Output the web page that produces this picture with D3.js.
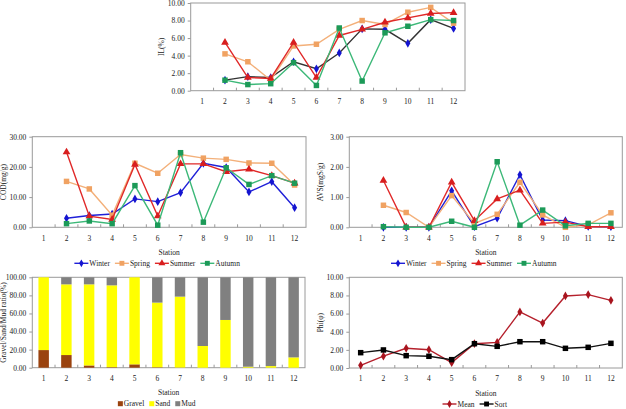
<!DOCTYPE html>
<html>
<head>
<meta charset="utf-8">
<script src="https://cdn.jsdelivr.net/npm/d3@7"></script>
<style>
  body { margin: 0; background: #fff; }
  text { font-family: "Liberation Serif", "Times New Roman", serif; fill: #222; }
</style>
</head>
<body>
<svg id="chart" width="626" height="409"></svg>
<script>
// stations along the x axis
const stations = ["1", "2", "3", "4", "5", "6", "7", "8", "9", "10", "11", "12"];

// IL (%)
const ilWinter = [null, 1.2, 1.6, 1.5, 3.3, 2.5, 4.3, 7.05, 7.0, 5.4, 8.1, 7.1];
const ilSpring = [null, 4.2, 3.3, 1.2, 5.1, 5.3, 7.0, 8.0, 7.55, 8.95, 9.5, 7.7];
const ilSummer = [null, 5.5, 1.5, 1.4, 5.5, 1.5, 6.3, 7.0, 7.8, 8.3, 8.8, 8.9];
const ilAutumn = [null, 1.2, 0.7, 0.8, 3.2, 0.6, 7.15, 1.1, 6.6, 7.35, 8.1, 8.0];

// COD (mg/g)
const codWinter = [null, 3.0, 3.9, 4.4, 9.4, 8.5, 11.5, 21.2, 19.8, 11.7, 15.1, 6.5];
const codSpring = [null, 15.2, 12.7, 4.0, 21.2, 17.9, 24.1, 22.9, 22.5, 21.3, 21.2, 14.0];
const codSummer = [null, 24.9, 3.7, 2.6, 20.8, 3.7, 21.0, 21.0, 18.4, 19.2, 17.1, 14.6];
const codAutumn = [null, 1.2, 2.1, 1.2, 13.8, 0.7, 24.7, 1.7, 19.7, 14.2, 17.1, 14.6];

// AVS (mgS/g)
const avsWinter = [null, 0.0, 0.0, 0.0, 1.21, 0.02, 0.3, 1.74, 0.24, 0.22, 0.03, 0.02];
const avsSpring = [null, 0.73, 0.49, 0.0, 1.05, 0.13, 0.43, 1.49, 0.41, 0.0, 0.08, 0.48];
const avsSummer = [null, 1.55, 0.0, 0.0, 1.49, 0.22, 0.94, 1.23, 0.13, 0.17, 0.02, 0.02];
const avsAutumn = [null, 0.02, 0.0, 0.0, 0.2, 0.0, 2.17, 0.07, 0.57, 0.05, 0.13, 0.13];

// grain size composition (%)
const gravel = [19.5, 14.0, 2.5, 0.6, 3.7, 0.5, 0.2, 0, 0, 0, 0, 0];
const sand   = [80.5, 78.2, 89.7, 90.5, 96.3, 71.5, 78.4, 24.0, 52.8, 1.1, 1.8, 11.4];
const mud    = [0, 7.8, 7.8, 8.9, 0, 28.0, 21.4, 76.0, 47.2, 98.9, 98.2, 88.6];

// Phi
const phiMean = [0.3, 1.3, 2.17, 2.02, 0.59, 2.68, 2.83, 6.18, 4.96, 7.94, 8.09, 7.46];
const phiSort = [1.69, 1.99, 1.36, 1.29, 0.92, 2.68, 2.39, 2.9, 2.9, 2.17, 2.28, 2.72];

const svg = d3.select("#chart");
const fontSize = 7.5;
const frameColor = "#9a9a9a";

// season styles
const season = {
  Winter: { line: "#2020d8", mark: "#1414d0", sym: d3.symbolDiamond, size: 22 },
  Spring: { line: "#f3b07a", mark: "#f0a262", sym: d3.symbolSquare, size: 30 },
  Summer: { line: "#e02828", mark: "#d81e1e", sym: d3.symbolTriangle, size: 26 },
  Autumn: { line: "#3cb878", mark: "#1c9a58", sym: d3.symbolSquare, size: 30 }
};

// common frame + axes for a panel, returns scales
function panelBase(p) {
  const x = d3.scaleBand().domain(stations).range([p.left, p.right]);
  const y = d3.scaleLinear().domain([0, p.ymax]).range([p.bottom, p.top]);
  const g = svg.append("g");

  g.append("rect")
    .attr("x", p.left).attr("y", p.top)
    .attr("width", p.right - p.left).attr("height", p.bottom - p.top)
    .attr("fill", "none").attr("stroke", frameColor);

  // y axis
  const yAxis = g.append("g")
    .attr("transform", `translate(${p.left},0)`)
    .call(d3.axisLeft(y).tickValues(d3.range(0, p.ymax + 1e-9, p.ystep))
      .tickFormat(d3.format(".2f")).tickSize(3).tickPadding(3));
  yAxis.select(".domain").remove();
  yAxis.selectAll("line").attr("stroke", frameColor);
  yAxis.selectAll("text").attr("font-size", fontSize).attr("font-family", null).attr("fill", "#222");

  // x axis labels
  const xAxis = g.append("g")
    .attr("transform", `translate(0,${p.bottom})`)
    .call(d3.axisBottom(x).tickSize(0).tickPadding(8));
  xAxis.select(".domain").remove();
  xAxis.selectAll("text").attr("font-size", fontSize).attr("font-family", null).attr("fill", "#222");

  // small inside ticks at category boundaries
  g.selectAll(".bt")
    .data(stations.slice(1))
    .join("line")
    .attr("x1", d => x(d)).attr("x2", d => x(d))
    .attr("y1", p.bottom).attr("y2", p.bottom - 3)
    .attr("stroke", frameColor);

  // y title
  g.append("text")
    .attr("transform", `translate(${p.left - 29},${(p.top + p.bottom) / 2}) rotate(-90)`)
    .attr("text-anchor", "middle").attr("dy", "0.35em")
    .attr("font-size", fontSize)
    .text(p.ytitle);

  if (p.station) {
    g.append("text")
      .attr("x", (p.left + p.right) / 2).attr("y", p.bottom + 25)
      .attr("text-anchor", "middle").attr("dy", "0.35em")
      .attr("font-size", fontSize)
      .text("Station");
  }
  return { x, y, g };
}

function drawSeries(g, x, y, values, color, markColor, sym, size) {
  const pts = stations.map((s, i) => ({ s, v: values[i] })).filter(d => d.v !== null);
  const line = d3.line().x(d => x(d.s) + x.bandwidth() / 2).y(d => y(d.v));
  g.append("path").datum(pts)
    .attr("d", line).attr("fill", "none")
    .attr("stroke", color).attr("stroke-width", 1.4);
  g.selectAll(null).data(pts).join("path")
    .attr("transform", d => `translate(${x(d.s) + x.bandwidth() / 2},${y(d.v)})`)
    .attr("d", d3.symbol().type(sym).size(size))
    .attr("fill", markColor);
}

// legend made of line+marker items, centred a bit left of plot centre
function lineLegend(items, cx, cy) {
  const g = svg.append("g");
  let xpos = 0;
  items.forEach(it => {
    const ig = g.append("g").attr("transform", `translate(${xpos},0)`);
    ig.append("line").attr("x1", 0).attr("x2", 14).attr("y1", 0).attr("y2", 0)
      .attr("stroke", it.line).attr("stroke-width", 1.4);
    ig.append("path").attr("transform", "translate(7,0)")
      .attr("d", d3.symbol().type(it.sym).size(it.size * 0.8)).attr("fill", it.mark);
    const t = ig.append("text").attr("x", 15).attr("dy", "0.35em")
      .attr("font-size", fontSize).text(it.name);
    xpos += 15 + t.node().getComputedTextLength() + 5;
  });
  const w = xpos - 5;
  g.attr("transform", `translate(${cx - w / 2},${cy})`);
}

function boxLegend(items, cx, cy) {
  const g = svg.append("g");
  let xpos = 0;
  items.forEach(it => {
    const ig = g.append("g").attr("transform", `translate(${xpos},0)`);
    ig.append("rect").attr("x", 0).attr("y", -2.5).attr("width", 5).attr("height", 5).attr("fill", it.color);
    const t = ig.append("text").attr("x", 6).attr("dy", "0.35em")
      .attr("font-size", fontSize).text(it.name);
    xpos += 6 + t.node().getComputedTextLength() + 5;
  });
  const w = xpos - 5;
  g.attr("transform", `translate(${cx - w / 2},${cy})`);
}

function seasonPanel(p, data, winterLine) {
  const { x, y, g } = panelBase(p);
  ["Winter", "Spring", "Summer", "Autumn"].forEach(name => {
    const st = season[name];
    const lc = name === "Winter" && winterLine ? winterLine : st.line;
    drawSeries(g, x, y, data[name], lc, st.mark, st.sym, st.size);
  });
  if (p.legend) {
    lineLegend(["Winter", "Spring", "Summer", "Autumn"].map(n => ({ name: n, ...season[n] })),
      (p.left + p.right) / 2 - 12, p.bottom + 36);
  }
}

// top: IL
seasonPanel({ left: 190.7, right: 465, top: 3, bottom: 90.7, ymax: 10, ystep: 2, ytitle: "IL(%)" },
  { Winter: ilWinter, Spring: ilSpring, Summer: ilSummer, Autumn: ilAutumn }, "#333");

// middle left: COD
seasonPanel({ left: 32.3, right: 306, top: 136.7, bottom: 227.3, ymax: 30, ystep: 10, ytitle: "COD(mg/g)", station: true, legend: true },
  { Winter: codWinter, Spring: codSpring, Summer: codSummer, Autumn: codAutumn });

// middle right: AVS
seasonPanel({ left: 349.3, right: 622.3, top: 136.7, bottom: 227.3, ymax: 3, ystep: 1, ytitle: "AVS(mgS/g)", station: true, legend: true },
  { Winter: avsWinter, Spring: avsSpring, Summer: avsSummer, Autumn: avsAutumn });

// bottom left: stacked grain size bars
{
  const p = { left: 32.3, right: 305, top: 277.3, bottom: 367.7, ymax: 100, ystep: 20, ytitle: "Gravel/Sand/Mud ratio(%)", station: true };
  const { x, y, g } = panelBase(p);
  const rows = stations.map((s, i) => ({ station: s, Gravel: gravel[i], Sand: sand[i], Mud: mud[i] }));
  const keys = ["Gravel", "Sand", "Mud"];
  const colors = { Gravel: "#9a430f", Sand: "#ffff00", Mud: "#808080" };
  const stack = d3.stack().keys(keys)(rows);
  const bw = x.bandwidth() * 0.46;
  g.selectAll(".layer").data(stack).join("g")
    .attr("fill", d => colors[d.key])
    .selectAll("rect").data(d => d).join("rect")
    .attr("x", d => x(d.data.station) + (x.bandwidth() - bw) / 2)
    .attr("width", bw)
    .attr("y", d => y(d[1]))
    .attr("height", d => y(d[0]) - y(d[1]));
  boxLegend(keys.map(k => ({ name: k, color: colors[k] })), (p.left + p.right) / 2 - 12, p.bottom + 36);
}

// bottom right: Phi mean and sorting
{
  const p = { left: 349.3, right: 622.3, top: 277.3, bottom: 368, ymax: 10, ystep: 2, ytitle: "Phi(φ)", station: true };
  const { x, y, g } = panelBase(p);
  drawSeries(g, x, y, phiMean, "#b5202c", "#a8141e", d3.symbolDiamond, 22);
  drawSeries(g, x, y, phiSort, "#111", "#000", d3.symbolSquare, 30);
  lineLegend([
    { name: "Mean", line: "#b5202c", mark: "#a8141e", sym: d3.symbolDiamond, size: 22 },
    { name: "Sort", line: "#111", mark: "#000", sym: d3.symbolSquare, size: 30 }
  ], (p.left + p.right) / 2 - 11, p.bottom + 36);
}
</script>
</body>
</html>
